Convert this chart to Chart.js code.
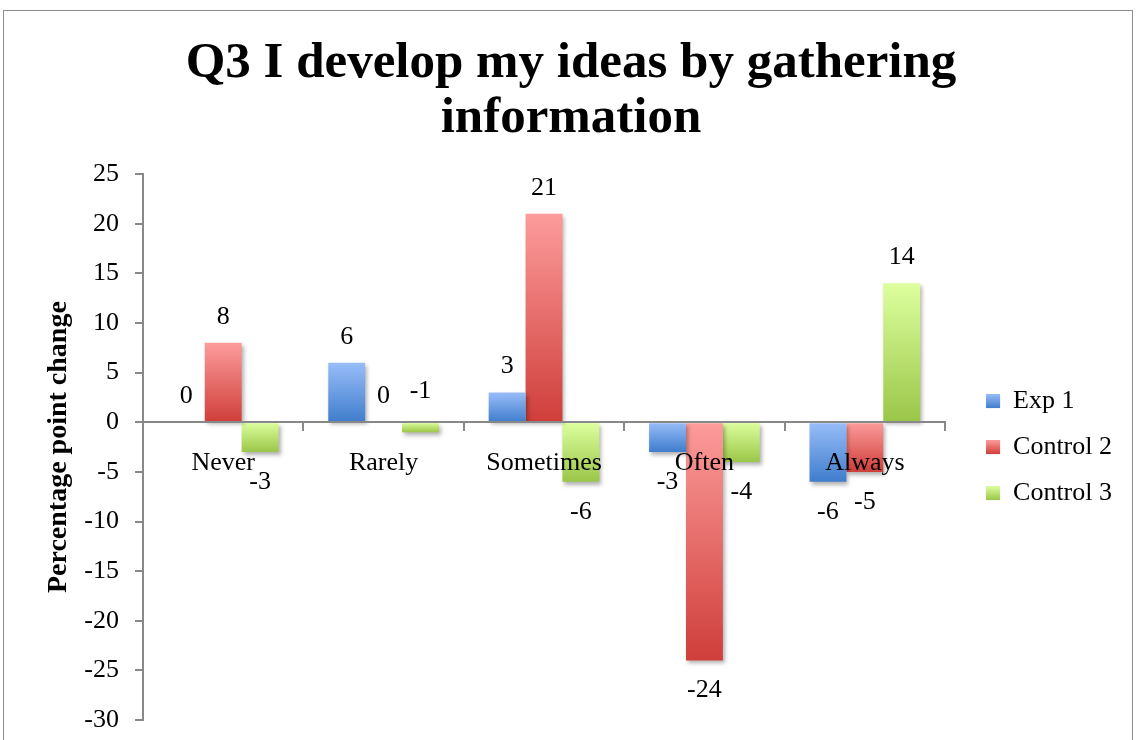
<!DOCTYPE html>
<html lang="en">

<head>
  <meta charset="UTF-8">
  <title>Q3 I develop my ideas by gathering information</title>
  <script src="https://cdn.jsdelivr.net/npm/chart.js"></script>
  <style>
    body { margin: 0; background: #fff; }
    #wrap { position: relative; width: 1140px; height: 740px; overflow: hidden; }
    #frame { position: absolute; left: 3px; top: 10px; width: 1128px; height: 800px; border: 1.5px solid #8c8c8c; }
    canvas { position: absolute; left: 0; top: 0; }
  </style>
</head>

<body>
  <div id="wrap">
    <div id="frame"></div>
    <canvas id="chart" width="1140" height="740"></canvas>
  </div>

<script>
  const categories = ['Never', 'Rarely', 'Sometimes', 'Often', 'Always']
  const seriesNames = ['Exp 1', 'Control 2', 'Control 3']
  const exp1 = [0, 6, 3, -3, -6]
  const control2 = [8, 0, 21, -24, -5]
  const control3 = [-3, -1, -6, -4, 14]
  const yTicks = [25, 20, 15, 10, 5, 0, -5, -10, -15, -20, -25, -30]

  const serif = "'Liberation Serif', 'Times New Roman', serif"
  const colors = [
    { light: '#98bdf9', mid: '#6a9be3', dark: '#3f7dcc' },
    { light: '#fc9c9b', mid: '#e66c69', dark: '#cf3e3a' },
    { light: '#ddff9e', mid: '#bde377', dark: '#9ac648' }
  ]

  // light at the top of each bar, dark at the bottom
  function barGradient(col) {
    return function (ctx) {
      const chart = ctx.chart
      const y = chart.scales.y
      if (ctx.type !== 'data' || !chart.chartArea || !y) return col.mid
      const a = y.getPixelForValue(ctx.raw)
      const b = y.getPixelForValue(0)
      const top = Math.min(a, b), bot = Math.max(a, b)
      if (bot - top < 1) return col.dark
      const g = chart.ctx.createLinearGradient(0, top, 0, bot)
      g.addColorStop(0, col.light)
      g.addColorStop(1, col.dark)
      return g
    }
  }

  const shadowAndLabels = {
    id: 'shadowAndLabels',
    beforeDatasetsDraw(chart) {
      const c = chart.ctx
      c.save()
      c.shadowColor = 'rgba(0,0,0,0.3)'
      c.shadowBlur = 4
      c.shadowOffsetX = 2
      c.shadowOffsetY = 3
    },
    afterDatasetsDraw(chart) {
      const c = chart.ctx
      c.restore()
      c.save()
      c.font = '26px ' + serif
      c.fillStyle = '#000'
      c.textAlign = 'center'
      c.textBaseline = 'middle'
      chart.data.datasets.forEach((ds, i) => {
        chart.getDatasetMeta(i).data.forEach((bar, j) => {
          const v = ds.data[j]
          let yy = v >= 0 ? bar.y - 26 : bar.y + 30
          // very short negative bars: label goes above the axis, clear of the category name
          if (v < 0 && Math.abs(bar.base - bar.y) < 15) yy = bar.base - 32
          c.fillText(String(v), bar.x, yy)
        })
      })
      c.restore()
    },
    afterDraw(chart) {
      // gradient squares in the legend
      const c = chart.ctx
      const boxes = chart.legend.legendHitBoxes || []
      boxes.forEach((hb, i) => {
        const top = hb.top + (26 - 14) / 2
        const g = c.createLinearGradient(0, top, 0, top + 14)
        g.addColorStop(0, colors[i].light)
        g.addColorStop(1, colors[i].dark)
        c.fillStyle = g
        c.fillRect(hb.left, top, 14, 14)
      })
    }
  }

  new Chart(document.getElementById('chart'), {
    type: 'bar',
    data: {
      labels: categories,
      datasets: [
        { label: seriesNames[0], data: exp1, backgroundColor: barGradient(colors[0]) },
        { label: seriesNames[1], data: control2, backgroundColor: barGradient(colors[1]) },
        { label: seriesNames[2], data: control3, backgroundColor: barGradient(colors[2]) }
      ]
    },
    plugins: [shadowAndLabels],
    options: {
      responsive: false,
      animation: false,
      layout: { padding: { left: 20, right: 18, top: 0, bottom: 20 } },
      datasets: {
        bar: { categoryPercentage: 0.69, barPercentage: 1 }
      },
      plugins: {
        title: {
          display: true,
          text: ['Q3 I develop my ideas by gathering', 'information'],
          color: '#000',
          font: { family: serif, size: 51, weight: 'bold', lineHeight: 1.08 },
          padding: { top: 36, bottom: 28 }
        },
        legend: {
          position: 'right',
          fullSize: false,
          labels: {
            color: '#000',
            font: { family: serif, size: 26 },
            boxWidth: 14,
            boxHeight: 14,
            padding: 20,
            generateLabels(chart) {
              return chart.data.datasets.map((ds, i) => ({
                text: ds.label,
                fillStyle: colors[i].mid,
                strokeStyle: 'rgba(0,0,0,0)',
                lineWidth: 0,
                fontColor: '#000',
                datasetIndex: i
              }))
            }
          }
        },
        tooltip: { enabled: false }
      },
      scales: {
        x: {
          position: { y: 0 },
          grid: { display: true, drawOnChartArea: false, drawTicks: true, tickLength: 8, color: '#888', lineWidth: 2 },
          border: { color: '#888', width: 2, z: 1 },
          ticks: { color: '#000', font: { family: serif, size: 26 }, padding: 17, maxRotation: 0, z: 1 }
        },
        y: {
          min: -30,
          max: 25,
          afterBuildTicks(scale) { scale.ticks = yTicks.map(v => ({ value: v })) },
          afterFit(scale) {
            scale.width = 123
            scale.paddingTop = 0
            scale.paddingBottom = 0
          },
          grid: { display: true, drawOnChartArea: false, drawTicks: true, tickLength: 8, color: '#888', lineWidth: 2 },
          border: { color: '#888', width: 2 },
          ticks: { color: '#000', font: { family: serif, size: 26 }, padding: 16 },
          title: {
            display: true,
            text: 'Percentage point change',
            color: '#000',
            font: { family: serif, size: 28, weight: 'bold' },
            padding: { top: 22, bottom: 0 }
          }
        },
        gap: {
          // empty space between plot and legend
          position: 'right',
          grid: { display: false },
          border: { display: false },
          ticks: { display: false },
          afterFit(scale) { scale.width = 21 }
        }
      }
    }
  })
</script>
</body>

</html>
